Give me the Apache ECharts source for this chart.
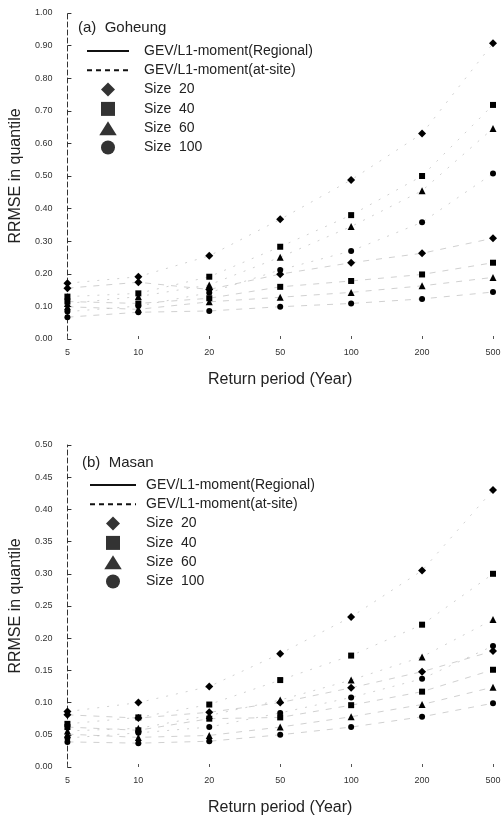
<!DOCTYPE html>
<html>
<head>
<meta charset="utf-8">
<script src="https://cdn.jsdelivr.net/npm/echarts@6/dist/echarts.min.js"></script>
<style>
  html, body { margin: 0; padding: 0; background: #fff; }
  #main { width: 504px; height: 817px; }
</style>
</head>
<body>
<div id="main"></div>
<script>
// return periods (categories)
var periods = ['5', '10', '20', '50', '100', '200', '500'];

// (a) Goheung  - at-site
var gohAtSite20 = [0.171, 0.191, 0.255, 0.367, 0.488, 0.630, 0.907];
var gohAtSite40 = [0.130, 0.140, 0.191, 0.283, 0.380, 0.500, 0.718];
var gohAtSite60 = [0.109, 0.130, 0.166, 0.251, 0.345, 0.455, 0.646];
var gohAtSite100 = [0.084, 0.101, 0.142, 0.212, 0.270, 0.358, 0.508];
// (a) Goheung  - regional
var gohReg20 = [0.156, 0.174, 0.152, 0.199, 0.234, 0.263, 0.309];
var gohReg40 = [0.115, 0.109, 0.125, 0.160, 0.178, 0.198, 0.234];
var gohReg60 = [0.099, 0.091, 0.114, 0.128, 0.143, 0.163, 0.189];
var gohReg100 = [0.067, 0.082, 0.086, 0.099, 0.109, 0.123, 0.144];

// (b) Masan - at-site
var masAtSite20 = [0.086, 0.100, 0.125, 0.176, 0.233, 0.305, 0.430];
var masAtSite40 = [0.067, 0.077, 0.097, 0.135, 0.173, 0.221, 0.300];
var masAtSite60 = [0.056, 0.060, 0.080, 0.104, 0.135, 0.171, 0.229];
var masAtSite100 = [0.045, 0.053, 0.062, 0.084, 0.108, 0.137, 0.188];
// (b) Masan - regional
var masReg20 = [0.081, 0.076, 0.085, 0.100, 0.123, 0.148, 0.180];
var masReg40 = [0.062, 0.057, 0.075, 0.077, 0.096, 0.117, 0.151];
var masReg60 = [0.051, 0.046, 0.049, 0.062, 0.078, 0.097, 0.124];
var masReg100 = [0.039, 0.037, 0.040, 0.050, 0.062, 0.078, 0.099];

var sizeNames = ['Size  20', 'Size  40', 'Size  60', 'Size  100'];
var sizeSymbols = ['diamond', 'rect', 'triangle', 'circle'];
var legendIcons = [
  'path://M5,0 L10,5 L5,10 L0,5 Z',
  'path://M0,0 L10,0 L10,10 L0,10 Z',
  'path://M5,1 L10,9 L0,9 Z',
  'circle'
];
var markSizes = [8, 6, 7, 6];
var regName = 'GEV/L1-moment(Regional)';
var siteName = 'GEV/L1-moment(at-site)';

var font = 'Liberation Sans, Arial, Helvetica, sans-serif';

function dataSeries(idx, values, k, regional) {
  return {
    type: 'line',
    xAxisIndex: idx,
    yAxisIndex: idx,
    data: values,
    symbol: sizeSymbols[k],
    symbolSize: markSizes[k],
    itemStyle: { color: '#000' },
    lineStyle: { color: '#bbb', width: 0.7, type: regional ? [6, 7] : [2, 8] },
    silent: true,
    z: 3
  };
}

var series = [];
[[gohAtSite20, gohAtSite40, gohAtSite60, gohAtSite100],
 [masAtSite20, masAtSite40, masAtSite60, masAtSite100]].forEach(function (group, idx) {
  group.forEach(function (v, k) { series.push(dataSeries(idx, v, k, false)); });
});
[[gohReg20, gohReg40, gohReg60, gohReg100],
 [masReg20, masReg40, masReg60, masReg100]].forEach(function (group, idx) {
  group.forEach(function (v, k) { series.push(dataSeries(idx, v, k, true)); });
});

// empty series, only for the legend entries
series.push({ name: regName, type: 'line', data: [], symbol: 'none',
  lineStyle: { color: '#111', width: 1, type: 'solid' }, itemStyle: { color: '#111' } });
series.push({ name: siteName, type: 'line', data: [], symbol: 'none',
  lineStyle: { color: '#111', width: 1, type: [5, 4] }, itemStyle: { color: '#111' } });
sizeNames.forEach(function (n, k) {
  series.push({ name: n, type: 'scatter', data: [], symbol: sizeSymbols[k],
    itemStyle: { color: '#000' } });
});

function yAxis(idx, max, interval) {
  return {
    type: 'value',
    gridIndex: idx,
    min: 0,
    max: max,
    interval: interval,
    name: 'RRMSE in quantile',
    nameLocation: 'middle',
    nameGap: 33,
    nameTextStyle: { fontFamily: font, fontSize: 16, color: '#222' },
    axisLine: { show: true, lineStyle: { color: '#333', width: 1, type: [5, 3] } },
    axisTick: { show: true, inside: true, length: 4, lineStyle: { color: '#333' } },
    axisLabel: { margin: 15, fontFamily: font, fontSize: 9, color: '#333',
      formatter: function (v) { return v.toFixed(2); } },
    splitLine: { show: false }
  };
}

function xAxis(idx) {
  return {
    type: 'category',
    gridIndex: idx,
    data: periods,
    boundaryGap: false,
    name: 'Return period (Year)',
    nameLocation: 'middle',
    nameGap: 33,
    nameTextStyle: { fontFamily: font, fontSize: 16, color: '#222' },
    axisLine: { show: false },
    axisTick: { show: true, inside: true, length: 3, alignWithLabel: true,
      lineStyle: { color: '#555' } },
    axisLabel: { margin: 9, fontFamily: font, fontSize: 9, color: '#333' },
    splitLine: { show: false }
  };
}

function legend(left, top, itemWidth, pad) {
  var items = [
    { name: regName, itemStyle: { opacity: 0 } },
    { name: siteName, itemStyle: { opacity: 0 } }
  ];
  sizeNames.forEach(function (n, k) {
    items.push({ name: n, icon: legendIcons[k], itemStyle: { color: '#000' } });
  });
  return {
    orient: 'vertical',
    left: left,
    top: top,
    padding: 0,
    itemWidth: itemWidth,
    itemHeight: 14,
    itemGap: 5.3,
    selectedMode: false,
    symbolKeepAspect: true,
    data: items,
    textStyle: { fontFamily: font, fontSize: 14, color: '#222', lineHeight: 14,
      padding: [0, 0, 0, pad] }
  };
}

var chart = echarts.init(document.getElementById('main'));
chart.setOption({
  animation: false,
  backgroundColor: '#fff',
  title: [
    { text: '(a)  Goheung', left: 73, top: 15,
      textStyle: { fontFamily: font, fontSize: 15, fontWeight: 'normal', color: '#222' } },
    { text: '(b)  Masan', left: 77, top: 450,
      textStyle: { fontFamily: font, fontSize: 15, fontWeight: 'normal', color: '#222' } }
  ],
  legend: [legend(86, 44, 42, 10), legend(89, 478, 46, 5)],
  grid: [
    { left: 66, right: 11, top: 13, height: 326 },
    { left: 66, right: 11, top: 445, height: 323 }
  ],
  xAxis: [xAxis(0), xAxis(1)],
  yAxis: [yAxis(0, 1.0, 0.1), yAxis(1, 0.5, 0.05)],
  series: series
});
</script>
</body>
</html>
